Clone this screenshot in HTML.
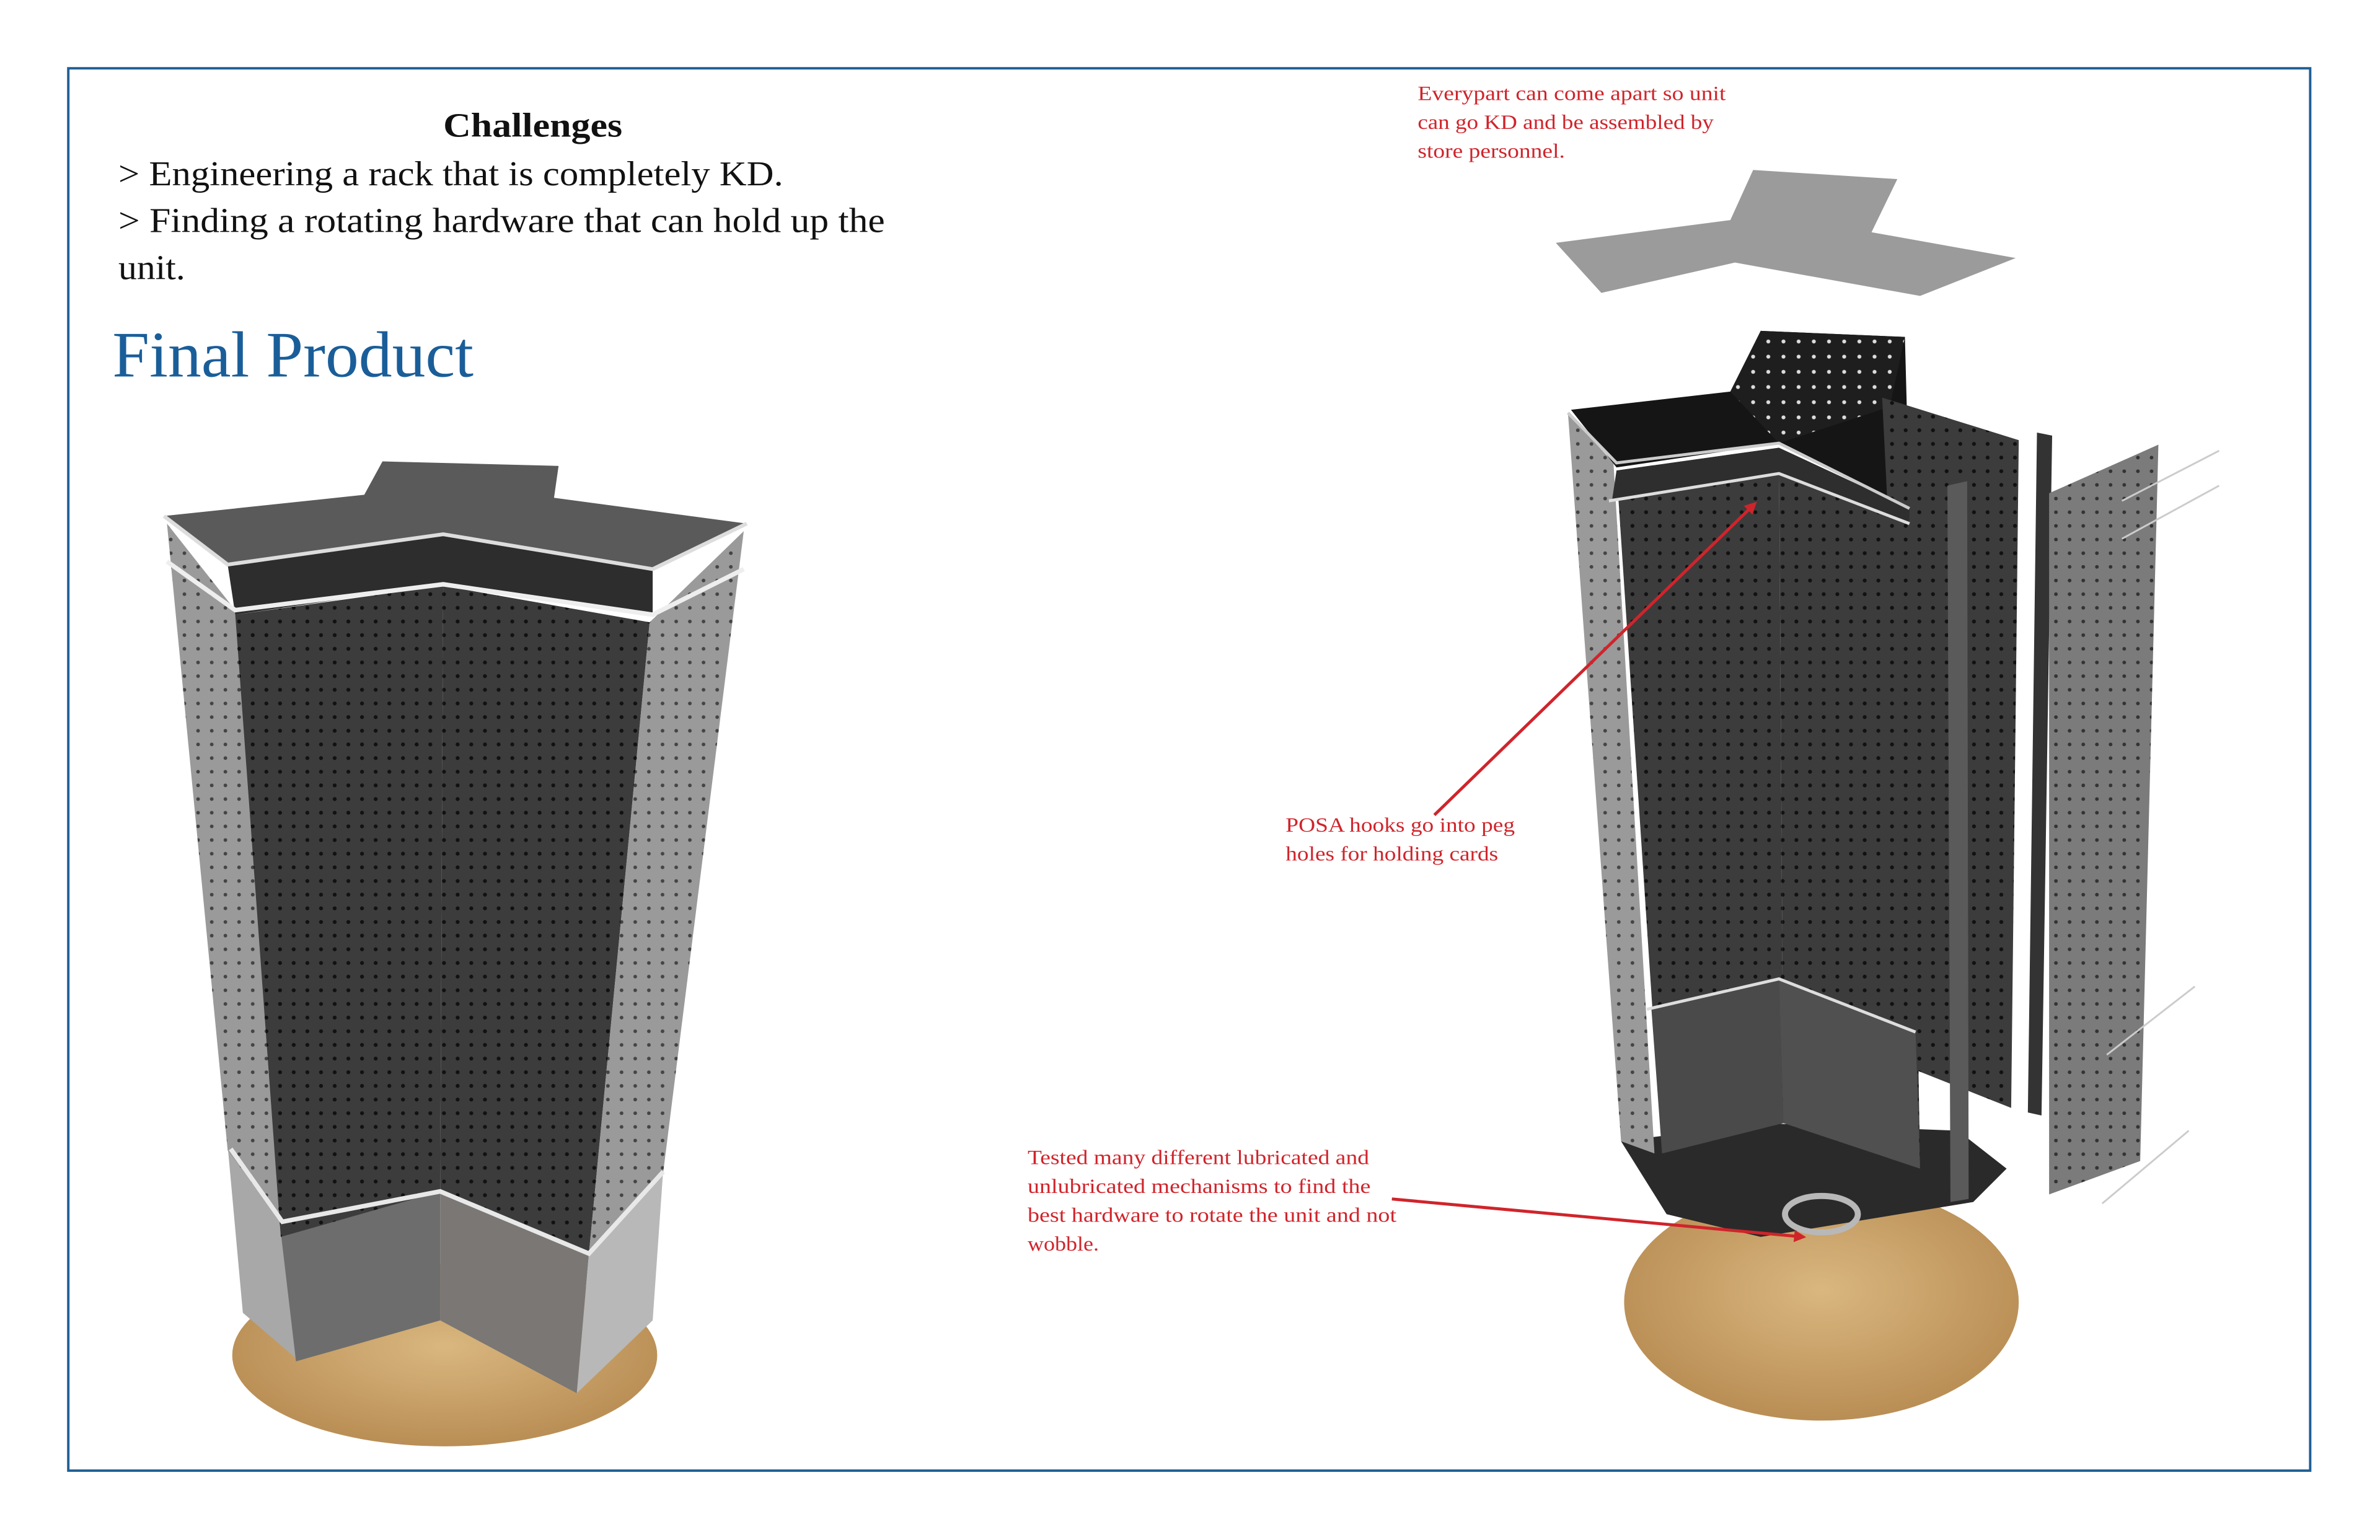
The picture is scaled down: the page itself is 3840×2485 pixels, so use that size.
<!DOCTYPE html>
<html><head><meta charset="utf-8">
<style>
html,body{margin:0;padding:0;background:#fff;}
svg{display:block;}
text{font-family:"Liberation Serif",serif;}
</style></head>
<body>
<svg width="3840" height="2485" viewBox="0 0 1568 1014.7" xmlns="http://www.w3.org/2000/svg">
<defs>
<pattern id="dots" width="9" height="9" patternUnits="userSpaceOnUse">
<rect width="9" height="9" fill="#3c3c3c"/><circle cx="4.5" cy="4.5" r="1.3" fill="#111"/></pattern>
<pattern id="dotsL" width="9" height="9" patternUnits="userSpaceOnUse">
<rect width="9" height="9" fill="#9a9a9a"/><circle cx="4.5" cy="4.5" r="1.2" fill="#444"/></pattern>
<pattern id="dotsM" width="9" height="9" patternUnits="userSpaceOnUse">
<rect width="9" height="9" fill="#7b7b7b"/><circle cx="4.5" cy="4.5" r="1.2" fill="#333"/></pattern>
<pattern id="dotsW" width="10" height="10" patternUnits="userSpaceOnUse">
<rect width="10" height="10" fill="#1e1e1e"/><circle cx="5" cy="5" r="1.3" fill="#ddd"/></pattern>
<radialGradient id="wood" cx="50%" cy="45%" r="55%">
<stop offset="0" stop-color="#d9b77f"/><stop offset="1" stop-color="#b98e55"/></radialGradient>
<linearGradient id="kick" x1="0" y1="0" x2="0" y2="1"><stop offset="0" stop-color="#555"/><stop offset="1" stop-color="#8a7a66"/></linearGradient>
<marker id="ah" markerWidth="8" markerHeight="8" refX="6" refY="4" orient="auto" markerUnits="userSpaceOnUse"><path d="M0,0 L8,4 L0,8 z" fill="#d0242b"/></marker>
</defs>

<rect x="45" y="45" width="1477" height="924" fill="none" stroke="#1f5f96" stroke-width="1.6"/>

<text x="292" y="90" font-size="22.5" font-weight="bold" fill="#111" textLength="118" lengthAdjust="spacingAndGlyphs">Challenges</text>
<text x="78" y="122" font-size="23" fill="#111" textLength="438" lengthAdjust="spacingAndGlyphs">&gt; Engineering a rack that is completely KD.</text>
<text x="78" y="153" font-size="23" fill="#111" textLength="505" lengthAdjust="spacingAndGlyphs">&gt; Finding a rotating hardware that can hold up the</text>
<text x="78" y="184" font-size="23" fill="#111" textLength="44" lengthAdjust="spacingAndGlyphs">unit.</text>
<text x="74" y="248" font-size="43" fill="#1a5e99" textLength="238" lengthAdjust="spacingAndGlyphs">Final Product</text>

<g font-size="13.5" fill="#d0242b">
<text x="934" y="66" textLength="203" lengthAdjust="spacingAndGlyphs">Everypart can come apart so unit</text>
<text x="934" y="85" textLength="195" lengthAdjust="spacingAndGlyphs">can go KD and be assembled by</text>
<text x="934" y="104" textLength="97" lengthAdjust="spacingAndGlyphs">store personnel.</text>
<text x="847" y="548" textLength="151" lengthAdjust="spacingAndGlyphs">POSA hooks go into peg</text>
<text x="847" y="567" textLength="140" lengthAdjust="spacingAndGlyphs">holes for holding cards</text>
<text x="677" y="767" textLength="225" lengthAdjust="spacingAndGlyphs">Tested many different lubricated and</text>
<text x="677" y="786" textLength="226" lengthAdjust="spacingAndGlyphs">unlubricated mechanisms to find the</text>
<text x="677" y="805" textLength="243" lengthAdjust="spacingAndGlyphs">best hardware to rotate the unit and not</text>
<text x="677" y="824" textLength="47" lengthAdjust="spacingAndGlyphs">wobble.</text>
</g>

<!-- LEFT RACK -->
<ellipse cx="293" cy="893" rx="140" ry="60" fill="url(#wood)"/>
<polygon points="150,755 185,800 195,895 160,865" fill="#a8a8a8"/>
<polygon points="185,812 290,785 290,870 195,897" fill="#6d6d6d"/>
<polygon points="290,785 388,826 380,918 290,870" fill="#7a7775"/>
<polygon points="388,826 437,770 430,870 380,918" fill="#b8b8b8"/>
<polygon points="110,345 155,402 185,805 150,758" fill="url(#dotsL)"/>
<polygon points="155,405 292,386 290,785 185,815" fill="url(#dots)"/>
<polygon points="292,386 428,410 388,826 290,785" fill="url(#dots)"/>
<polygon points="428,410 490,350 437,772 388,826" fill="url(#dotsL)"/>
<polyline points="152,757 186,805 290,785 388,826 437,772" fill="none" stroke="#e8e8e8" stroke-width="3"/>
<polygon points="150,372 292,352 430,375 430,405 292,385 155,405" fill="#2d2d2d"/>
<polyline points="110,370 155,402 292,385 430,405 490,375" fill="none" stroke="#eee" stroke-width="3"/>
<polygon points="108,340 240,326 252,304 368,307 365,328 492,345 430,375 292,352 150,372" fill="#5a5a5a"/>
<polyline points="108,340 150,372 292,352 430,375 492,345" fill="none" stroke="#ddd" stroke-width="2.5"/>

<!-- RIGHT EXPLODED -->
<ellipse cx="1200" cy="858" rx="130" ry="78" fill="url(#wood)"/>
<polygon points="1068,752 1098,800 1160,815 1300,792 1322,770 1290,745 1160,740" fill="#2a2a2a"/>
<ellipse cx="1200" cy="800" rx="24" ry="12" fill="none" stroke="#b8b8b8" stroke-width="4"/>
<polygon points="1033,272 1063,305 1090,760 1068,752" fill="url(#dotsL)"/>
<polygon points="1035,270 1140,258 1160,218 1255,222 1258,335 1172,292 1065,308" fill="#151515"/>
<polygon points="1140,258 1160,218 1255,222 1245,268 1172,292" fill="url(#dotsW)"/>
<polygon points="1240,262 1330,290 1325,730 1262,705" fill="url(#dots)"/>
<polygon points="1065,310 1172,295 1175,740 1095,760" fill="url(#dots)"/>
<polygon points="1172,295 1258,335 1265,770 1175,740" fill="url(#dots)"/>
<polygon points="1065,310 1172,295 1258,335 1258,345 1172,312 1062,330" fill="#2e2e2e"/>
<polygon points="1088,665 1172,645 1175,740 1095,760" fill="#4a4a4a"/>
<polygon points="1172,645 1262,680 1265,770 1175,740" fill="#505050"/>
<polyline points="1060,330 1172,312 1258,345" fill="none" stroke="#ddd" stroke-width="2"/>
<polyline points="1085,665 1172,645 1262,680" fill="none" stroke="#ddd" stroke-width="2"/>
<polyline points="1033,272 1065,305 1172,292 1258,335" fill="none" stroke="#ccc" stroke-width="2"/>
<polygon points="1283,320 1296,317 1297,790 1285,792" fill="#5a5a5a"/>
<polygon points="1342,285 1352,287 1345,735 1336,733" fill="#333"/>
<polygon points="1350,325 1422,293 1410,765 1350,787" fill="url(#dotsM)"/>
<g stroke="#ccc" stroke-width="1.2">
<line x1="1398" y1="330" x2="1462" y2="297"/><line x1="1398" y1="355" x2="1462" y2="320"/>
<line x1="1388" y1="695" x2="1446" y2="650"/><line x1="1385" y1="793" x2="1442" y2="745"/>
</g>
<polygon points="1025,160 1140,145 1155,112 1250,118 1233,153 1328,170 1265,195 1143,173 1055,193" fill="#9b9b9b"/>

<line x1="945" y1="537" x2="1156" y2="332" stroke="#d0242b" stroke-width="2" marker-end="url(#ah)"/>
<line x1="917" y1="790" x2="1188" y2="815" stroke="#d0242b" stroke-width="2" marker-end="url(#ah)"/>
</svg>
</body></html>
